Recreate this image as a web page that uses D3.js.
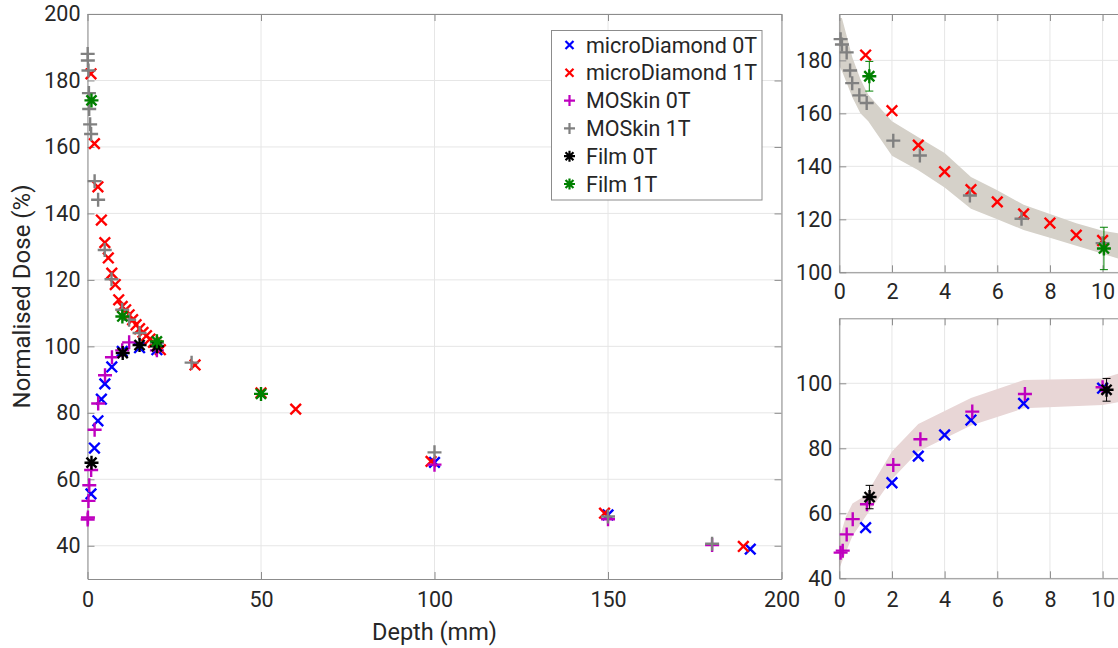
<!DOCTYPE html>
<html>
<head>
<meta charset="utf-8">
<script src="https://cdn.jsdelivr.net/npm/d3@7"></script>
<style>
  body { margin: 0; background: #fff; }
  svg text { font-family: Roboto, "Noto Sans", sans-serif; fill: #262626; }
</style>
</head>
<body>
<div id="chart"></div>
<script>
// microDiamond
var mdDepth0 = [1, 2, 3, 4, 5, 7, 10, 15, 20, 100, 150, 191];
var mdDose0  = [55.6, 69.4, 77.6, 84.1, 88.7, 93.8, 98.5, 99.6, 99.0, 65.1, 49.3, 39.0];
var mdDepth1 = [1, 2, 3, 4, 5, 6, 7, 8, 9, 10, 11, 12, 13, 14, 15, 16, 17, 18, 19, 20, 21, 31, 50, 60, 99, 149, 189];
var mdDose1  = [182, 161, 148, 138, 131.2, 126.6, 122, 118.6, 114, 112, 111, 109.5, 108, 106.5, 105.3, 104.2, 103.2, 102.2, 101.2, 100.2, 99, 94.4, 86, 81.1, 65.4, 49.8, 39.8];
// MOSkin
var msDepth0 = [0.05, 0.13, 0.28, 0.51, 1.05, 2.05, 3.08, 5.05, 7.05, 10, 12, 20, 100, 150, 180];
var msDose0  = [47.9, 48.5, 53.5, 58.2, 62.8, 74.9, 82.8, 91.3, 96.7, 98.8, 101.2, 98.8, 64.4, 48, 40.2];
var msDepth1 = [0.05, 0.1, 0.28, 0.41, 0.49, 0.76, 1.04, 2.05, 3.06, 4.96, 6.92, 10, 12, 15, 20, 30, 100, 150, 180];
var msDose1  = [188, 186, 183, 176.2, 171.4, 166.8, 163.9, 149.7, 144.1, 129, 120.2, 111, 108, 104, 101, 95.1, 68.1, 48.8, 40.6];
// Film (with error bars)
var filmDepth0 = [1.15, 10.15, 15, 20];
var filmDose0  = [65, 98, 100.4, 100];
var filmErr0   = [3.6, 3.5, 0, 0];
var filmDepth1 = [1.14, 10.05, 20, 50];
var filmDose1  = [174, 109, 101.5, 85.7];
var filmErr1   = [5.6, 8, 0, 0];

// uncertainty bands of the two insets
var band1Depth = [0, 0.1, 0.5, 0.8, 1.1, 2, 3, 4, 5, 6, 7, 8, 9, 10, 11];
var band1Upper = [196, 196, 181, 173, 167, 157, 151, 145, 136, 131, 125.5, 122, 118.5, 115.7, 114];
var band1Lower = [178, 176, 166, 160, 157, 144, 138.5, 132, 124, 120, 116, 113, 110, 107, 104];
var band0Depth = [0, 0.25, 0.5, 1, 2, 3, 5, 7, 10, 11];
var band0Upper = [52, 59, 63, 65.5, 79, 87.5, 95.5, 101, 101.5, 104];
var band0Lower = [43, 48, 53, 59, 70.5, 79, 87, 92.3, 93.3, 94.8];

var mainXTicks = [0, 50, 100, 150, 200];
var mainYTicks = [40, 60, 80, 100, 120, 140, 160, 180, 200];
var insetXTicks = [0, 2, 4, 6, 8, 10];
var inset1YTicks = [100, 120, 140, 160, 180];
var inset0YTicks = [40, 60, 80, 100];

var series = [
  {name: "microDiamond 0T", depth: mdDepth0, dose: mdDose0, color: "#0000ff", shape: "x", field: 0},
  {name: "microDiamond 1T", depth: mdDepth1, dose: mdDose1, color: "#ff0000", shape: "x", field: 1},
  {name: "MOSkin 0T", depth: msDepth0, dose: msDose0, color: "#bf00bf", shape: "+", field: 0},
  {name: "MOSkin 1T", depth: msDepth1, dose: msDose1, color: "#808080", shape: "+", field: 1},
  {name: "Film 0T", depth: filmDepth0, dose: filmDose0, err: filmErr0, color: "#000000", shape: "*", field: 0},
  {name: "Film 1T", depth: filmDepth1, dose: filmDose1, err: filmErr1, color: "#008000", shape: "*", field: 1}
];

var W = 1118, H = 648;
var axisColor = "#8c8c8c", gridColor = "#e6e6e6";
var tickFont = "21.5px";

var svg = d3.select("#chart").append("svg")
    .attr("width", W).attr("height", H);

function markerPath(shape, s) {
  if (shape === "x") return "M" + (-s) + "," + (-s) + "L" + s + "," + s + "M" + (-s) + "," + s + "L" + s + "," + (-s);
  if (shape === "+") return "M" + (-s) + ",0L" + s + ",0M0," + (-s) + "L0," + s;
  var d = s * 0.72;
  return "M" + (-s) + ",0L" + s + ",0M0," + (-s) + "L0," + s +
         "M" + (-d) + "," + (-d) + "L" + d + "," + d + "M" + (-d) + "," + d + "L" + d + "," + (-d);
}
var markerSize = {"x": 5.3, "+": 7, "*": 7};

function drawGrid(g, x, y, xTicks, yTicks) {
  var x0 = x.range()[0], x1 = x.range()[1], y0 = y.range()[0], y1 = y.range()[1];
  g.append("g").selectAll("line").data(xTicks).join("line")
      .attr("x1", d => x(d)).attr("x2", d => x(d))
      .attr("y1", y0).attr("y2", y1)
      .attr("stroke", gridColor);
  g.append("g").selectAll("line").data(yTicks).join("line")
      .attr("x1", x0).attr("x2", x1)
      .attr("y1", d => y(d)).attr("y2", d => y(d))
      .attr("stroke", gridColor);
}

function drawFrame(g, x, y, xTicks, yTicks, xPad) {
  var x0 = x.range()[0], x1 = x.range()[1], y0 = y.range()[0], y1 = y.range()[1];

  var styleAxis = a => a
      .call(a => a.select(".domain").attr("stroke", axisColor))
      .call(a => a.selectAll(".tick line").attr("stroke", axisColor))
      .call(a => a.selectAll("text").attr("font-size", tickFont).attr("fill", "#262626"));

  g.append("g").attr("transform", "translate(0," + y0 + ")")
      .call(d3.axisBottom(x).tickValues(xTicks).tickFormat(d3.format("d"))
        .tickSizeInner(-7).tickSizeOuter(0).tickPadding(xPad))
      .call(styleAxis);
  g.append("g").attr("transform", "translate(0," + y1 + ")")
      .call(d3.axisTop(x).tickValues(xTicks).tickFormat("")
        .tickSizeInner(-7).tickSizeOuter(0))
      .call(styleAxis);
  g.append("g").attr("transform", "translate(" + x0 + ",0)")
      .call(d3.axisLeft(y).tickValues(yTicks).tickFormat(d3.format("d"))
        .tickSizeInner(-7).tickSizeOuter(0).tickPadding(7))
      .call(styleAxis);
  g.append("g").attr("transform", "translate(" + x1 + ",0)")
      .call(d3.axisRight(y).tickValues(yTicks).tickFormat("")
        .tickSizeInner(-7).tickSizeOuter(0))
      .call(styleAxis);
}

function drawSeries(g, x, y, list, maxDepth, withErr) {
  list.forEach(function(s) {
    var pts = s.depth.map((d, i) => ({depth: d, dose: s.dose[i], err: s.err ? s.err[i] : 0}))
        .filter(p => p.depth <= maxDepth);

    if (withErr) {
      var eb = g.append("g").attr("stroke", s.color).attr("stroke-width", 1)
        .selectAll("g").data(pts.filter(p => p.err > 0)).join("g");
      eb.append("line")
          .attr("x1", p => x(p.depth)).attr("x2", p => x(p.depth))
          .attr("y1", p => y(p.dose - p.err)).attr("y2", p => y(p.dose + p.err));
      eb.append("line")
          .attr("x1", p => x(p.depth) - 4).attr("x2", p => x(p.depth) + 4)
          .attr("y1", p => y(p.dose - p.err)).attr("y2", p => y(p.dose - p.err));
      eb.append("line")
          .attr("x1", p => x(p.depth) - 4).attr("x2", p => x(p.depth) + 4)
          .attr("y1", p => y(p.dose + p.err)).attr("y2", p => y(p.dose + p.err));
    }

    g.append("g").selectAll("path").data(pts).join("path")
        .attr("transform", p => "translate(" + x(p.depth) + "," + y(p.dose) + ")")
        .attr("d", markerPath(s.shape, markerSize[s.shape]))
        .attr("fill", "none")
        .attr("stroke", s.color)
        .attr("stroke-width", 2.4);
  });
}

function drawBand(g, x, y, depth, upper, lower, color) {
  var pts = depth.map((d, i) => [x(d), y(upper[i])])
      .concat(depth.map((d, i) => [x(d), y(lower[i])]).reverse());
  g.append("path")
      .attr("d", d3.line()(pts) + "Z")
      .attr("fill", color);
}

//---------- main panel
var xMain = d3.scaleLinear().domain([0, 200]).range([87.5, 781.5]);
var yMain = d3.scaleLinear().domain([30, 200]).range([579, 14]);
var gMain = svg.append("g");
drawGrid(gMain, xMain, yMain, mainXTicks, mainYTicks);
drawFrame(gMain, xMain, yMain, mainXTicks, mainYTicks, 13);
drawSeries(gMain, xMain, yMain, series, 1000, false);

gMain.append("text")
    .attr("transform", "translate(22," + ((14 + 579) / 2) + ") rotate(-90)")
    .attr("text-anchor", "middle")
    .attr("dominant-baseline", "central")
    .attr("font-size", "24px")
    .text("Normalised Dose (%)");
gMain.append("text")
    .attr("x", (87.5 + 781.5) / 2).attr("y", 632)
    .attr("text-anchor", "middle")
    .attr("dominant-baseline", "central")
    .attr("font-size", "23.5px")
    .text("Depth (mm)");

// legend
var legend = gMain.append("g").attr("transform", "translate(551.5,30.5)");
legend.append("rect")
    .attr("width", 210.5).attr("height", 169.5)
    .attr("fill", "#fff").attr("stroke", axisColor);
var li = legend.selectAll("g.item").data(series).join("g")
    .attr("class", "item")
    .attr("transform", (d, i) => "translate(0," + (14.5 + i * 27.8) + ")");
li.append("path")
    .attr("transform", "translate(18,0)")
    .attr("d", d => markerPath(d.shape, d.shape === "x" ? 4 : 5.5))
    .attr("fill", "none")
    .attr("stroke", d => d.color)
    .attr("stroke-width", 2.2);
li.append("text")
    .attr("x", 34.5)
    .attr("dominant-baseline", "central")
    .attr("font-size", "21.5px")
    .text(d => d.name);

//---------- insets
var xInset = d3.scaleLinear().domain([0, 11]).range([839.3, 839.3 + 11 * 26.33]);

var yTop = d3.scaleLinear().domain([100, 197.5]).range([272.3, 14]);
var gTop = svg.append("g");
drawGrid(gTop, xInset, yTop, insetXTicks, inset1YTicks);
drawBand(gTop, xInset, yTop, band1Depth, band1Upper, band1Lower, "#d5d1c9");
drawFrame(gTop, xInset, yTop, insetXTicks, inset1YTicks, 11);
drawSeries(gTop, xInset, yTop, series.filter(s => s.field === 1), 11, true);

var yBot = d3.scaleLinear().domain([40, 120]).range([578.3, 318.3]);
var gBot = svg.append("g");
drawGrid(gBot, xInset, yBot, insetXTicks, inset0YTicks);
drawBand(gBot, xInset, yBot, band0Depth, band0Upper, band0Lower, "#e8d6d6");
drawFrame(gBot, xInset, yBot, insetXTicks, inset0YTicks, 13);
drawSeries(gBot, xInset, yBot, series.filter(s => s.field === 0), 11, true);
</script>
</body>
</html>
